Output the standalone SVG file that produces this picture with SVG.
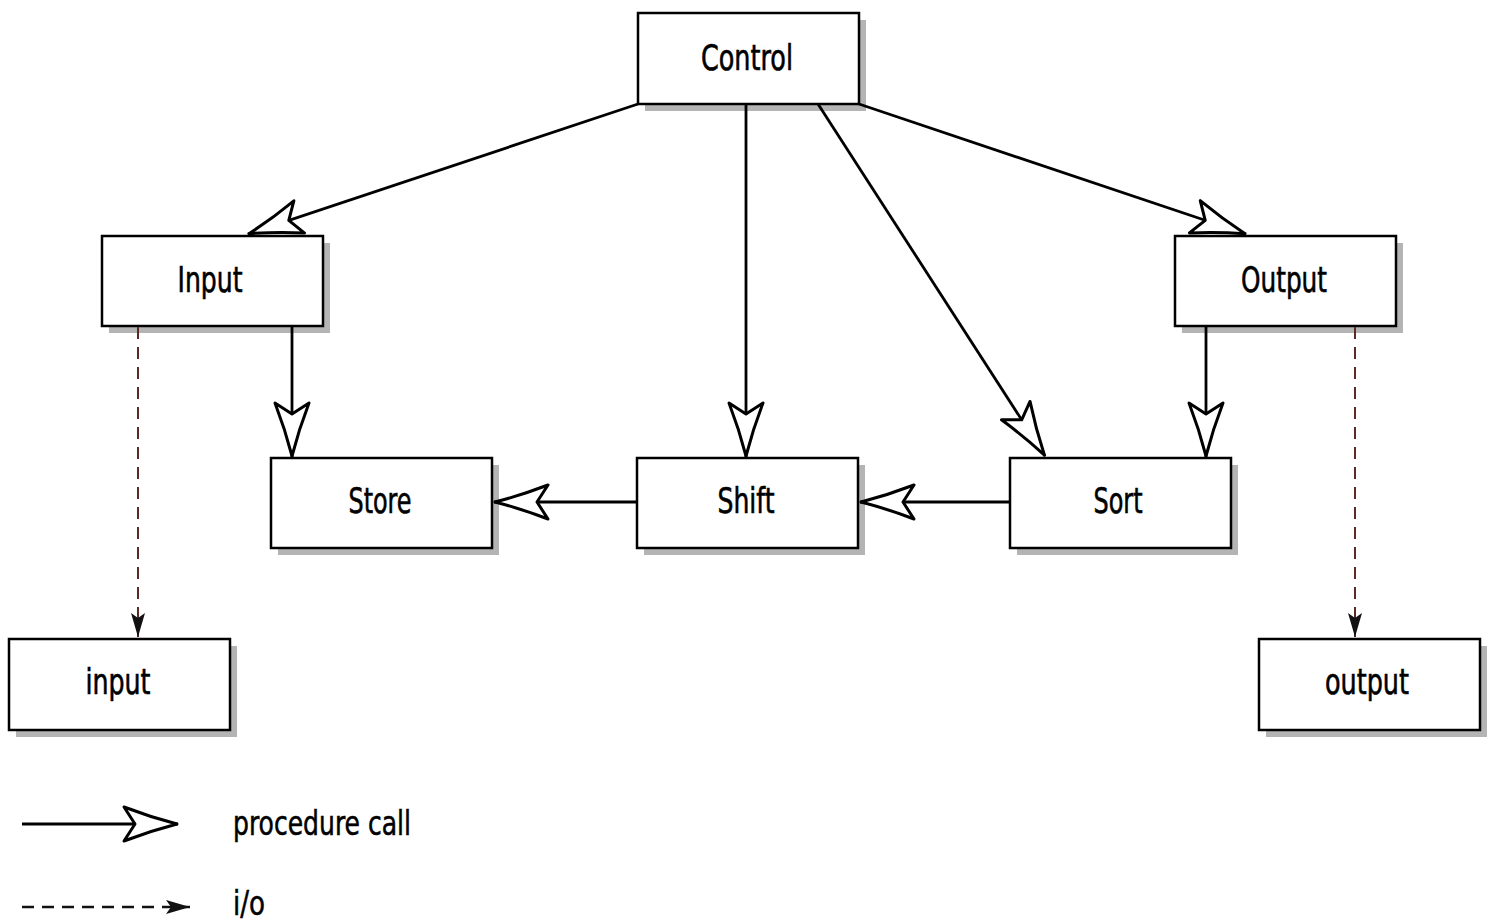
<svg xmlns="http://www.w3.org/2000/svg" width="1490" height="921" viewBox="0 0 1490 921">
<style>
.box{fill:#fff;stroke:#000;stroke-width:2.5}
.shadow{fill:#b4b4b4}
.lbl{font-family:"Liberation Sans Narrow","DejaVu Sans Condensed","Liberation Sans",sans-serif;font-size:35px;fill:#000;stroke:#000;stroke-width:0.6;text-anchor:middle}
.leg{font-family:"Liberation Sans Narrow","DejaVu Sans Condensed","Liberation Sans",sans-serif;font-size:33px;fill:#000;stroke:#000;stroke-width:0.5}
.call{fill:none;stroke:#000;stroke-width:2.8;marker-end:url(#open)}
.io{fill:none;stroke:#5a2a26;stroke-width:2;stroke-dasharray:12 8;marker-end:url(#solid)}
</style>
<defs>
<marker id="open" markerUnits="userSpaceOnUse" viewBox="-60 -22 64 44" markerWidth="64" markerHeight="44" refX="0" refY="0" orient="auto">
<path d="M-1,0 Q-28,-7 -54,-17 L-43,0 L-54,17 Q-28,7 -1,0 Z" fill="#fff" stroke="#000" stroke-width="3" stroke-linejoin="round"/>
</marker>
<marker id="solid" markerUnits="userSpaceOnUse" viewBox="-26 -10 28 20" markerWidth="28" markerHeight="20" refX="0" refY="0" orient="auto">
<path d="M0,0 L-24,-7 L-19,0 L-24,7 Z" fill="#111"/>
</marker>
</defs>
<g id="node-control"><rect class="shadow" x="645" y="20" width="221" height="91"/><rect class="box" x="638" y="13" width="221" height="91"/><text class="lbl" x="747" y="70" textLength="92" lengthAdjust="spacingAndGlyphs">Control</text></g>
<g id="node-Input"><rect class="shadow" x="109" y="243" width="221" height="90"/><rect class="box" x="102" y="236" width="221" height="90"/><text class="lbl" x="210" y="292" textLength="65" lengthAdjust="spacingAndGlyphs">Input</text></g>
<g id="node-Output"><rect class="shadow" x="1182" y="243" width="221" height="90"/><rect class="box" x="1175" y="236" width="221" height="90"/><text class="lbl" x="1284" y="292" textLength="86" lengthAdjust="spacingAndGlyphs">Output</text></g>
<g id="node-store"><rect class="shadow" x="278" y="465" width="221" height="90"/><rect class="box" x="271" y="458" width="221" height="90"/><text class="lbl" x="380" y="513" textLength="63" lengthAdjust="spacingAndGlyphs">Store</text></g>
<g id="node-shift"><rect class="shadow" x="644" y="465" width="221" height="90"/><rect class="box" x="637" y="458" width="221" height="90"/><text class="lbl" x="746" y="513" textLength="57" lengthAdjust="spacingAndGlyphs">Shift</text></g>
<g id="node-sort"><rect class="shadow" x="1017" y="465" width="221" height="90"/><rect class="box" x="1010" y="458" width="221" height="90"/><text class="lbl" x="1118" y="513" textLength="49" lengthAdjust="spacingAndGlyphs">Sort</text></g>
<g id="node-input-io"><rect class="shadow" x="16" y="646" width="221" height="91"/><rect class="box" x="9" y="639" width="221" height="91"/><text class="lbl" x="118" y="694" textLength="65" lengthAdjust="spacingAndGlyphs">input</text></g>
<g id="node-output-io"><rect class="shadow" x="1266" y="646" width="221" height="91"/><rect class="box" x="1259" y="639" width="221" height="91"/><text class="lbl" x="1367" y="694" textLength="84" lengthAdjust="spacingAndGlyphs">output</text></g>
<g id="connectors">
<line class="call" x1="638" y1="104" x2="248" y2="234"/>
<line class="call" x1="746" y1="104" x2="746" y2="457"/>
<line class="call" x1="818" y1="104" x2="1045" y2="456"/>
<line class="call" x1="859" y1="104" x2="1246" y2="234"/>
<line class="call" x1="292" y1="327" x2="292" y2="457"/>
<line class="call" x1="1206" y1="327" x2="1206" y2="457"/>
<line class="call" x1="636" y1="502" x2="494" y2="502"/>
<line class="call" x1="1009" y1="502" x2="860" y2="502"/>
<line class="io" x1="138" y1="327" x2="138" y2="637"/>
<line class="io" x1="1355" y1="327" x2="1355" y2="637"/>
</g>
<g id="legend">
<line x1="22" y1="824" x2="178" y2="824" stroke="#000" stroke-width="3" marker-end="url(#open)"/>
<text class="leg" x="233" y="835" textLength="178" lengthAdjust="spacingAndGlyphs">procedure call</text>
<line x1="22" y1="907" x2="190" y2="907" stroke="#111" stroke-width="2.5" stroke-dasharray="12 8" marker-end="url(#solid)"/>
<text class="leg" x="233" y="915" textLength="32" lengthAdjust="spacingAndGlyphs">i/o</text>
</g>
</svg>
